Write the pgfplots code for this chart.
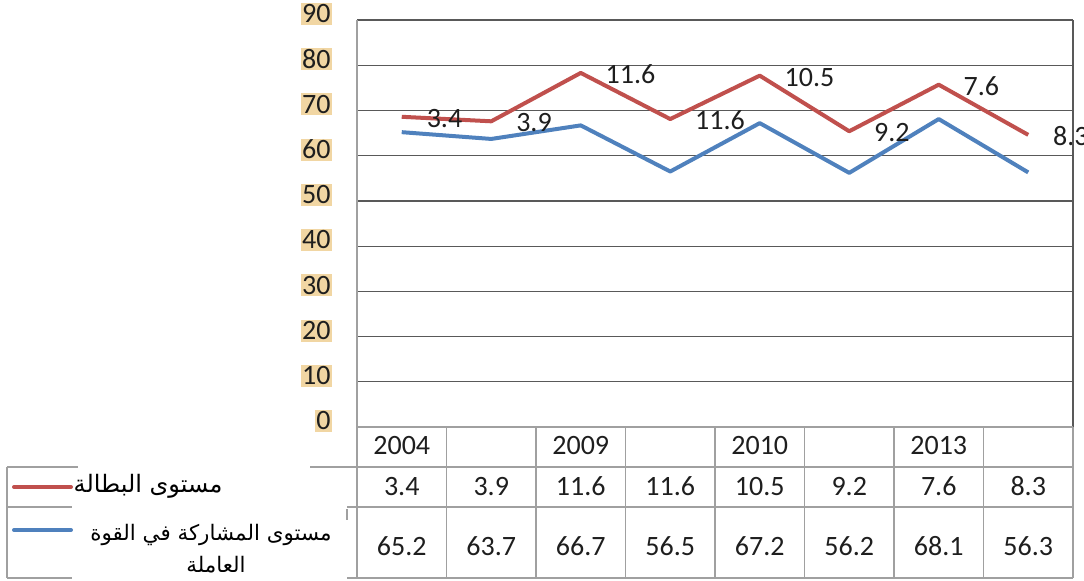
\documentclass[border=0pt]{standalone}
\usepackage{pgfplots}
\pgfplotsset{compat=1.18}
\usepackage{pgfplotstable}
\usepackage{fontspec}
\setmainfont{Carlito}
\newfontfamily\arabicfont[Script=Arabic]{DejaVu Sans}
\TeXXeTstate=1
\definecolor{ured}{RGB}{192,80,77}
\definecolor{ublue}{RGB}{79,129,189}
\definecolor{tanlab}{RGB}{241,214,163}
\definecolor{gridc}{RGB}{89,89,89}
\definecolor{tblc}{RGB}{160,160,160}
\definecolor{txt}{RGB}{30,30,30}

\pgfplotstableread{
x part unemp
1 65.2 3.4
2 63.7 3.9
3 66.7 11.6
4 56.5 11.6
5 67.2 10.5
6 56.2 9.2
7 68.1 7.6
8 56.3 8.3
}\datatable

\begin{document}
\begin{tikzpicture}
\begin{axis}[
  at={(178.5pt,-213.5pt)}, anchor=south west,
  scale only axis, width=358pt, height=203.5pt,
  xmin=0.5, xmax=8.5, ymin=0, ymax=90,
  xtick=\empty, ytick={0,10,...,90},
  ymajorgrids, grid style={gridc, line width=0.6pt},
  axis line style={draw=none},
  major tick length=0pt,
  clip=false,
  stack plots=y,
  /pgf/number format/assume math mode=true,
  yticklabel style={font=\fontsize{14}{16}\selectfont, text=txt, fill=tanlab,
    inner xsep=0.5pt, inner ysep=1.1pt, text height=8.8pt, text depth=0pt,
    anchor=east, xshift=-12.5pt, yshift=3pt},
]
\addplot[ublue, line width=2pt, line join=round, no marks] table[x=x, y=part]{\datatable};
\addplot[ured, line width=2pt, line join=round, no marks,
  nodes near coords, point meta=explicit symbolic,
  every node near coord/.append style={anchor=west, inner sep=0pt, xshift=11.5pt, yshift=-0.75pt,
    font=\fontsize{14}{16}\selectfont, text=txt}]
  table[x=x, y=unemp, meta=unemp]{\datatable};
\end{axis}

\begin{scope}[x=0.5pt, y=-0.5pt]
  % plot frame
  \draw[tblc, line width=0.6pt] (357,20) -- (357,427);
  \draw[gridc, line width=0.8pt] (1073,20) -- (1073,427);
  % table lines
  \draw[tblc, line width=0.7pt] (357,427) -- (1073,427);
  \draw[tblc, line width=0.7pt] (7,467) -- (1073,467);
  \draw[tblc, line width=0.7pt] (7,507) -- (1073,507);
  \draw[tblc, line width=0.7pt] (7,578) -- (1073,578);
  \draw[tblc, line width=0.7pt] (7,467) -- (7,578);
  \foreach \c in {357,446.5,536,625.5,715,804.5,894,983.5,1073}
    \draw[tblc, line width=0.7pt] (\c,427) -- (\c,578);
  % white patches over the legend text
  \fill[white] (78,463) rectangle (310,505);
  \fill[white] (72,505) rectangle (347,582);
  \draw[tblc, line width=0.6pt] (347,509) -- (347,520);
  % header row
  \foreach \i/\t in {1/2004,3/2009,5/2010,7/2013}
    \node[anchor=base, inner sep=0pt, font=\fontsize{14}{16}\selectfont, text=txt] at ({357+(\i-0.5)*89.5},454) {\t};
  % value rows
  \foreach \i/\a/\b in {1/3.4/65.2,2/3.9/63.7,3/11.6/66.7,4/11.6/56.5,5/10.5/67.2,6/9.2/56.2,7/7.6/68.1,8/8.3/56.3}{
    \node[anchor=base, inner sep=0pt, font=\fontsize{14}{16}\selectfont, text=txt] at ({357+(\i-0.5)*89.5},495) {\a};
    \node[anchor=base, inner sep=0pt, font=\fontsize{14}{16}\selectfont, text=txt] at ({357+(\i-0.5)*89.5},555) {\b};
  }
  % legend keys
  \draw[ured, line width=2pt, line cap=round] (14,487) -- (71,487);
  \draw[ublue, line width=2pt, line cap=round] (14,530) -- (71,530);
  \node[anchor=base, inner sep=0pt, text=black] at (148,492) {\arabicfont\fontsize{12}{14}\selectfont\beginR مستوى البطالة\endR};
  \node[anchor=base, inner sep=0pt, text=black] at (211,540) {\arabicfont\fontsize{10.7}{13}\selectfont\beginR مستوى المشاركة في القوة\endR};
  \node[anchor=base, inner sep=0pt, text=black] at (216,572) {\arabicfont\fontsize{10.7}{13}\selectfont\beginR العاملة\endR};
\end{scope}
\pgfresetboundingbox
\useasboundingbox (0,0) rectangle (542pt,-290pt);
\end{tikzpicture}
\end{document}
